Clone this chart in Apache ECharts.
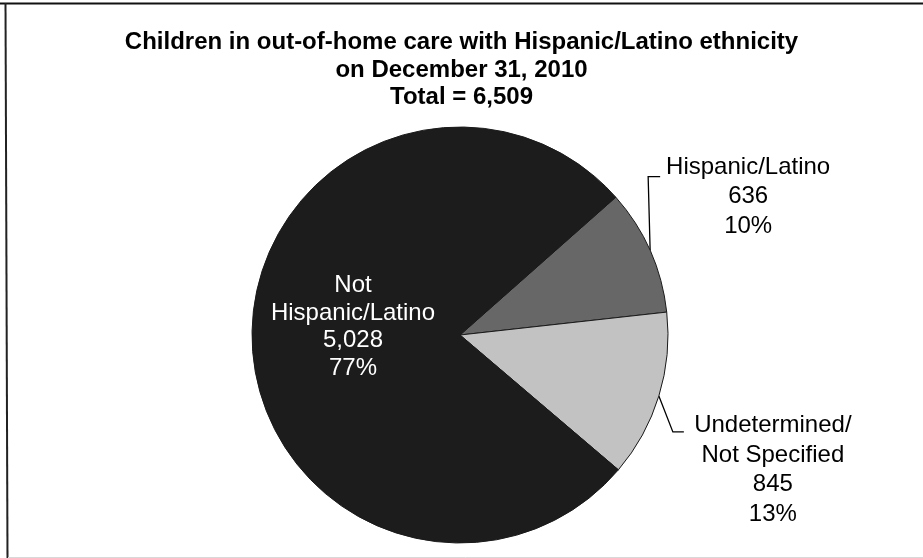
<!DOCTYPE html>
<html>
<head>
<meta charset="utf-8">
<title>Children in out-of-home care with Hispanic/Latino ethnicity</title>
<script src="https://cdn.jsdelivr.net/npm/echarts@6/dist/echarts.min.js"></script>
<style>
  html, body { margin: 0; padding: 0; background: #fff; }
  #chart { width: 923px; height: 558px; }
</style>
</head>
<body>
<div id="chart"></div>
<script>
// Ethnicity breakdown, December 31, 2010
const categories = ['Hispanic/Latino', 'Undetermined/\nNot Specified', 'Not\nHispanic/Latino'];
const counts = [636, 845, 5028];
const total = 6509;
const sliceColors = ['#676767', '#c2c2c2', '#1c1c1c'];

// Leader line geometry per slice: bend offset from the rim point, horizontal tail, text offset
const guides = [
  { bend: [-2, -74], tail: 12, text: [88, 20] },
  { bend: [14, 36], tail: 11, text: [89, 38] },
  null
];

const chart = echarts.init(document.getElementById('chart'), null, { renderer: 'canvas' });

const fmt = n => n.toLocaleString('en-US');

chart.setOption({
  backgroundColor: '#ffffff',
  animation: false,
  title: {
    text: 'Children in out-of-home care with Hispanic/Latino ethnicity\non December 31, 2010\nTotal = ' + fmt(total),
    left: 'center',
    top: 24,
    textStyle: {
      fontFamily: 'Liberation Sans, Arial, sans-serif',
      fontWeight: 'bold',
      fontSize: 24,
      lineHeight: 27.5,
      color: '#000'
    }
  },
  graphic: [
    { type: 'line', shape: { x1: 0, y1: 3.5, x2: 923, y2: 3.5 }, style: { stroke: '#111', lineWidth: 2 } },
    { type: 'line', shape: { x1: 5.5, y1: 3, x2: 7.5, y2: 558 }, style: { stroke: '#222', lineWidth: 2 } },
    { type: 'line', shape: { x1: 8, y1: 557.5, x2: 923, y2: 557.5 }, style: { stroke: '#d8d8d8', lineWidth: 1 } }
  ],
  series: [{
    type: 'pie',
    center: [460, 335],
    radius: 208,
    startAngle: 41.5,
    clockwise: true,
    avoidLabelOverlap: false,
    itemStyle: { borderColor: '#1a1a1a', borderWidth: 1 },
    label: {
      show: true,
      position: 'outside',
      fontFamily: 'Liberation Sans, Arial, sans-serif',
      fontSize: 24,
      lineHeight: 29.5,
      color: '#000',
      align: 'center',
      formatter: p => p.name + '\n' + fmt(p.value) + '\n' + Math.round(p.percent) + '%'
    },
    labelLine: {
      show: true,
      length: 10,
      length2: 10,
      smooth: false,
      lineStyle: { color: '#000', width: 1.3 }
    },
    labelLayout: function (params) {
      const g = guides[params.dataIndex];
      if (!g) return { dy: -9 };
      const pts = params.labelLinePoints;
      if (!pts || !pts[0]) return {};
      const p0 = pts[0];
      const p1 = [p0[0] + g.bend[0], p0[1] + g.bend[1]];
      const p2 = [p1[0] + g.tail, p1[1]];
      return {
        x: p2[0] + g.text[0],
        y: p2[1] + g.text[1],
        align: 'center',
        verticalAlign: 'middle',
        labelLinePoints: [p0, p1, p2]
      };
    },
    data: categories.map((name, i) => {
      const item = { name: name, value: counts[i], itemStyle: { color: sliceColors[i] } };
      if (i === 2) {
        item.label = { position: 'inside', color: '#fff', lineHeight: 27.5 };
        item.labelLine = { show: false };
      }
      return item;
    })
  }]
});
</script>
</body>
</html>
